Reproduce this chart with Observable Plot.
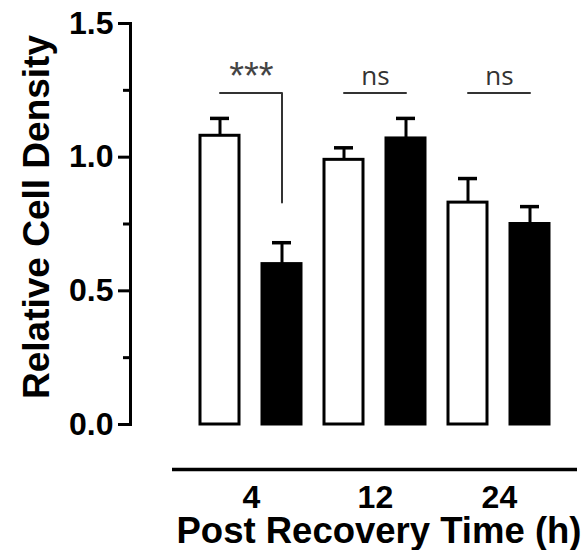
<!DOCTYPE html>
<html><head><meta charset="utf-8">
<script src="https://cdn.jsdelivr.net/npm/d3@7"></script>
<script src="https://cdn.jsdelivr.net/npm/@observablehq/plot@0.6"></script>
<style>body{margin:0;background:#fff}</style>
</head><body><div id="chart"></div>
<script>
// ---- data ----
const times = ["4", "12", "24"];
const conditions = ["Control", "Treated"];
const controlMeans = [1.08, 0.99, 0.83];
const controlSEM = [0.065, 0.045, 0.09];
const treatedMeans = [0.60, 1.07, 0.75];
const treatedSEM = [0.08, 0.075, 0.065];
const sigLabels = ["***", "ns", "ns"];
const sigLineY = [1.24, 1.24, 1.24];
const sigLabelY = [1.30, 1.30, 1.30];
const sigDropY = [0.83, null, null];
const yTicks = [0, 0.5, 1.0, 1.5];
const yMinorTicks = [0.25, 0.75, 1.25];
const xTitle = "Post Recovery Time (h)";
const yTitle = "Relative Cell Density";

// ---- build tables ----
const keyOf = (t, c) => t + "|" + c;
const keys = times.flatMap(t => conditions.map(c => keyOf(t, c)));
const rows = times.flatMap((t, i) => [
  {time: t, cond: conditions[0], key: keyOf(t, conditions[0]), mean: controlMeans[i], sem: controlSEM[i]},
  {time: t, cond: conditions[1], key: keyOf(t, conditions[1]), mean: treatedMeans[i], sem: treatedSEM[i]}
]);
const sigRows = times.map((t, i) => ({time: t, label: sigLabels[i], key: keyOf(t, conditions[0]), y: sigLabelY[i]}));
const bracketPts = times.flatMap((t, i) => {
  const pts = [
    {g: t, key: keyOf(t, conditions[0]), y: sigLineY[i]},
    {g: t, key: keyOf(t, conditions[1]), y: sigLineY[i]}
  ];
  if (sigDropY[i] != null) pts.push({g: t, key: keyOf(t, conditions[1]), y: sigDropY[i]});
  return pts;
});

const font = "'Liberation Sans', Arial, Helvetica, sans-serif";
const halfStep = 31.4;

const chart = Plot.plot({
  width: 586,
  height: 550,
  marginTop: 23,
  marginBottom: 126,
  marginLeft: 130,
  marginRight: 9,
  style: {fontFamily: font, background: "white", color: "black"},
  x: {type: "band", domain: keys, range: [172, 577], paddingInner: 0.363, paddingOuter: 0.406, axis: null},
  y: {domain: [0, 1.5]},
  color: {domain: conditions, range: ["white", "black"]},
  marks: [
    Plot.frame({anchor: "left", stroke: "black", strokeWidth: 3}),
    Plot.axisY({ticks: yTicks, tickSize: 12, tickPadding: 5, tickFormat: d3.format(".1f"),
      fontSize: 32, fontWeight: "bold", strokeWidth: 3, label: null}),
    Plot.axisY({ticks: yMinorTicks, tickSize: 7, tickFormat: () => "", strokeWidth: 3, label: null}),
    Plot.ruleY([0], {dy: 45, insetLeft: 42, strokeWidth: 3.5, stroke: "black"}),
    Plot.barY(rows, {x: "key", y: "mean", fill: "cond", stroke: "black", strokeWidth: 3}),
    Plot.ruleX(rows, {x: "key", y1: "mean", y2: d => d.mean + d.sem, stroke: "black", strokeWidth: 3}),
    Plot.tickY(rows, {x: "key", y: d => d.mean + d.sem, insetLeft: 10, insetRight: 10, stroke: "black", strokeWidth: 3.5}),
    Plot.line(bracketPts, {x: "key", y: "y", z: "g", stroke: "#333", strokeWidth: 2}),
    Plot.text(sigRows.filter(d => d.label !== "ns"), {x: "key", y: "y", text: "label", dx: halfStep,
      fontSize: 38, fill: "#444", fontFamily: font}),
    Plot.text(sigRows.filter(d => d.label === "ns"), {x: "key", y: "y", text: "label", dx: halfStep,
      fontSize: 26, fill: "#333", fontFamily: "'Open Sans', sans-serif"}),
    Plot.text(times, {x: t => keyOf(t, conditions[0]), text: d => d, frameAnchor: "bottom",
      lineAnchor: "top", dx: halfStep, dy: 61, fontSize: 32, fontWeight: "bold"}),
    Plot.text([xTitle], {text: d => d, frameAnchor: "bottom", lineAnchor: "bottom", textAnchor: "middle",
      dx: 25, dy: 118, fontSize: 36.5, fontWeight: "bold"}),
    Plot.text([yTitle], {text: d => d, frameAnchor: "left", textAnchor: "middle", lineAnchor: "middle",
      rotate: -90, dx: -93, dy: -7, fontSize: 37, fontWeight: "bold"})
  ]
});
document.getElementById("chart").appendChild(chart);
</script>
</body></html>
